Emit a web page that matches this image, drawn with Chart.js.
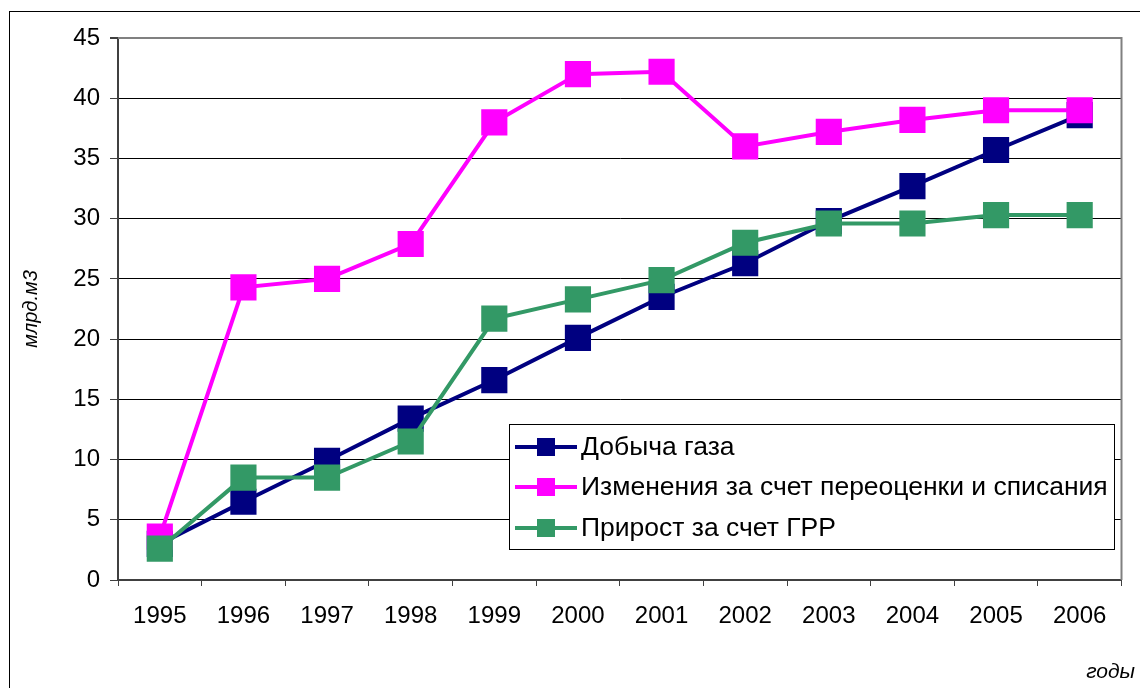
<!DOCTYPE html>
<html>
<head>
<meta charset="utf-8">
<script src="https://cdn.jsdelivr.net/npm/chart.js@4.4.1/dist/chart.umd.min.js"></script>
<style>
  html, body { margin: 0; padding: 0; background: #fff; }
  #wrap { position: relative; width: 1140px; height: 688px; }
</style>
</head>
<body>
<div id="wrap"><canvas id="c" width="1140" height="688"></canvas></div>
<script>
const years = ['1995','1996','1997','1998','1999','2000','2001','2002','2003','2004','2005','2006'];
const production = [3.0, 6.5, 9.9, 13.4, 16.6, 20.1, 23.5, 26.3, 29.8, 32.7, 35.7, 38.6];
const revaluation = [3.6, 24.3, 25.0, 27.9, 38.0, 42.0, 42.2, 36.0, 37.2, 38.2, 39.0, 39.0];
const exploration = [2.6, 8.5, 8.5, 11.5, 21.7, 23.3, 24.9, 28.0, 29.6, 29.6, 30.3, 30.3];
const seriesNames = ['Добыча газа', 'Изменения за счет переоценки и списания', 'Прирост за счет ГРР'];
const yTicks = [0, 5, 10, 15, 20, 25, 30, 35, 40, 45];
const yTitle = 'млрд.м3';
const xTitle = 'годы';

const colors = ['#000080', '#FF00FF', '#339966'];
const FONT = "'Liberation Sans', Arial, sans-serif";

function ds(label, data, color, order) {
  return {
    label, data, order,
    borderColor: color, backgroundColor: color,
    borderWidth: 4, tension: 0,
    pointStyle: 'rect', pointRadius: 18.5, pointHoverRadius: 18.5,
    pointBorderWidth: 0, pointBackgroundColor: color, pointBorderColor: color
  };
}

const framePlugin = {
  id: 'frame',
  beforeDraw(chart) {
    const ctx = chart.ctx;
    ctx.save();
    ctx.fillStyle = '#fff';
    ctx.fillRect(0, 0, chart.width, chart.height);
    ctx.strokeStyle = '#000';
    ctx.lineWidth = 1;
    ctx.strokeRect(9.5, 11.5, 1200, 800);
    ctx.restore();
  },
  afterDatasetsDraw(chart) {
    const ctx = chart.ctx;
    ctx.save();
    // legend box
    const lx = 509.5, ly = 424.5, lw = 605, lh = 125;
    ctx.fillStyle = '#fff';
    ctx.fillRect(lx, ly, lw, lh);
    ctx.strokeStyle = '#000';
    ctx.lineWidth = 1;
    ctx.strokeRect(lx, ly, lw, lh);
    const rows = [447, 487, 528];
    chart.data.datasets.forEach((d, i) => {
      const y = rows[i];
      ctx.strokeStyle = d.borderColor;
      ctx.lineWidth = 4;
      ctx.beginPath();
      ctx.moveTo(515, y);
      ctx.lineTo(577, y);
      ctx.stroke();
      ctx.fillStyle = d.borderColor;
      ctx.fillRect(546 - 9, y - 9, 18, 18);
      ctx.fillStyle = '#000';
      ctx.font = '26.5px ' + FONT;
      ctx.textBaseline = 'middle';
      ctx.textAlign = 'left';
      ctx.fillText(d.label, 581, y + 1);
    });
    // x title
    ctx.font = 'italic 21px ' + FONT;
    ctx.textAlign = 'right';
    ctx.textBaseline = 'middle';
    ctx.fillStyle = '#000';
    ctx.fillText(xTitle, 1135, 672);
    ctx.restore();
  },
  beforeDatasetsDraw(chart) {
    const ctx = chart.ctx;
    const a = chart.chartArea;
    ctx.save();
    ctx.strokeStyle = '#808080';
    ctx.lineWidth = 2;
    ctx.beginPath();
    ctx.moveTo(a.left, a.top);
    ctx.lineTo(a.right, a.top);
    ctx.lineTo(a.right, a.bottom);
    ctx.stroke();
    ctx.restore();
  }
};

new Chart(document.getElementById('c'), {
  type: 'line',
  data: {
    labels: years,
    datasets: [
      ds(seriesNames[0], production, colors[0], 3),
      ds(seriesNames[1], revaluation, colors[1], 2),
      ds(seriesNames[2], exploration, colors[2], 1)
    ]
  },
  options: {
    responsive: false,
    animation: false,
    events: [],
    layout: { padding: { left: 0, top: 38, right: 17, bottom: 0 } },
    plugins: { legend: { display: false }, tooltip: { enabled: false } },
    scales: {
      x: {
        offset: true,
        grid: { offset: true, drawOnChartArea: false, drawTicks: true, tickLength: 6, color: '#404040', lineWidth: 1 },
        border: { display: true, color: '#404040', width: 2 },
        ticks: { color: '#000', font: { family: FONT, size: 24 }, padding: 16, maxRotation: 0, autoSkip: false },
        afterFit(s) { s.height = 108; }
      },
      y: {
        min: 0, max: 45,
        afterBuildTicks(s) { s.ticks = yTicks.map(v => ({ value: v })); },
        grid: {
          color: (c) => c.tick && c.tick.value === 45 ? '#808080' : '#000',
          lineWidth: (c) => c.tick && c.tick.value === 45 ? 2 : 1,
          tickLength: 8, drawTicks: true,
          tickColor: '#404040'
        },
        border: { display: true, color: '#404040', width: 2 },
        ticks: { color: '#000', font: { family: FONT, size: 24 }, padding: 10 },
        title: { display: true, text: yTitle, color: '#000', font: { family: FONT, size: 20, style: 'italic' }, padding: { top: 19, bottom: 0 } },
        afterFit(s) { s.width = 118; }
      }
    }
  },
  plugins: [framePlugin]
});
</script>
</body>
</html>
